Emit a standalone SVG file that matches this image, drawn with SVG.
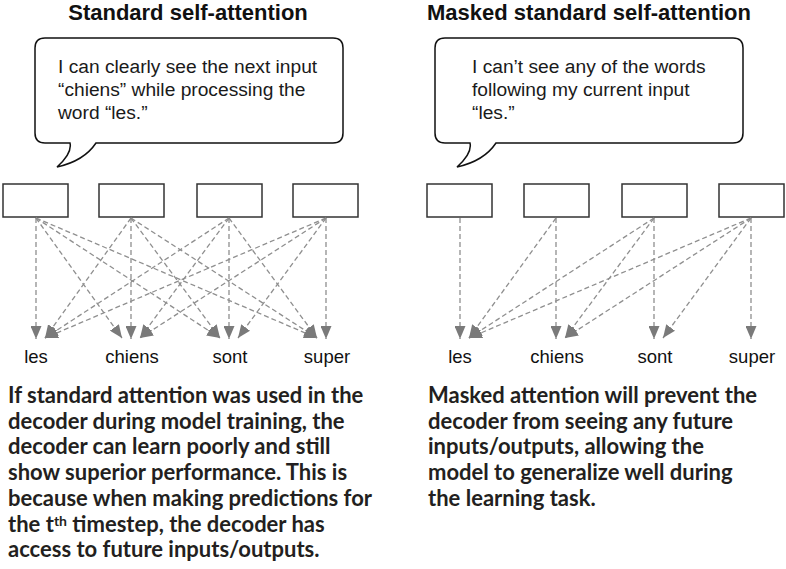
<svg xmlns="http://www.w3.org/2000/svg" width="786" height="569" viewBox="0 0 786 569">
<defs>
<style>
.title{font-family:"Liberation Sans",Arial,sans-serif;font-weight:bold;font-size:22px;fill:#111;text-anchor:middle}
.bub{fill:#fff;stroke:#111;stroke-width:1.5}
.btxt{font-family:"Liberation Sans",Arial,sans-serif;font-size:19.2px;fill:#1a1a1a}
.box{fill:#fff;stroke:#333;stroke-width:1.5}
.lbl{font-family:"Liberation Sans",Arial,sans-serif;font-size:18.5px;fill:#111;text-anchor:middle}
.cap{font-family:Lato,"Open Sans",sans-serif;font-weight:bold;font-size:22px;fill:#231f20}
.conn line{stroke:#8f8f8f;stroke-width:1.3;stroke-dasharray:5 3;marker-end:url(#ah)}
</style>
<marker id="ah" markerUnits="userSpaceOnUse" markerWidth="13" markerHeight="11" refX="13" refY="5.5" orient="auto">
<path d="M0,0 L13,5.5 L0,11 Z" fill="#7a7a7a"/>
</marker>
</defs>
<rect width="786" height="569" fill="#fff"/>

<text class="title" x="188" y="20">Standard self-attention</text>
<text class="title" x="589" y="20">Masked standard self-attention</text>

<g id="bubble-left">
<path class="bub" d="M45,38 H333 Q343,38 343,48 V133 Q343,143 333,143 H96 C88,155 75,163 57,167 C65,160 72,152 70,143 H45 Q35,143 35,133 V48 Q35,38 45,38 Z"/>
<text class="btxt" x="58" y="73">I can clearly see the next input</text>
<text class="btxt" x="58" y="96">“chiens” while processing the</text>
<text class="btxt" x="58" y="119">word “les.”</text>
</g>
<g id="bubble-right">
<path class="bub" d="M445,38 H733 Q743,38 743,48 V133 Q743,143 733,143 H496 C488,155 475,163 457,167 C465,160 472,152 470,143 H445 Q435,143 435,133 V48 Q435,38 445,38 Z"/>
<text class="btxt" x="472" y="73">I can’t see any of the words</text>
<text class="btxt" x="472" y="96">following my current input</text>
<text class="btxt" x="472" y="119">“les.”</text>
</g>

<g id="left-box-1"><rect class="box" x="3" y="184" width="65" height="33"/></g>
<g id="left-box-2"><rect class="box" x="99" y="184" width="65" height="33"/></g>
<g id="left-box-3"><rect class="box" x="197" y="184" width="65" height="33"/></g>
<g id="left-box-4"><rect class="box" x="293" y="184" width="65" height="33"/></g>
<g id="right-box-1"><rect class="box" x="427" y="184" width="65" height="33"/></g>
<g id="right-box-2"><rect class="box" x="524" y="184" width="65" height="33"/></g>
<g id="right-box-3"><rect class="box" x="622" y="184" width="65" height="33"/></g>
<g id="right-box-4"><rect class="box" x="719" y="184" width="65" height="33"/></g>

<g id="connectors" class="conn">
<line x1="36" y1="218" x2="36" y2="339"/>
<line x1="36" y1="218" x2="122" y2="338"/>
<line x1="36" y1="218" x2="220" y2="338"/>
<line x1="36" y1="218" x2="317" y2="338"/>
<line x1="131" y1="218" x2="45" y2="338"/>
<line x1="131" y1="218" x2="131" y2="339"/>
<line x1="131" y1="218" x2="220" y2="338"/>
<line x1="131" y1="218" x2="317" y2="338"/>
<line x1="229" y1="218" x2="45" y2="338"/>
<line x1="229" y1="218" x2="140" y2="338"/>
<line x1="229" y1="218" x2="229" y2="339"/>
<line x1="229" y1="218" x2="317" y2="338"/>
<line x1="326" y1="218" x2="45" y2="338"/>
<line x1="326" y1="218" x2="140" y2="338"/>
<line x1="326" y1="218" x2="238" y2="338"/>
<line x1="326" y1="218" x2="326" y2="339"/>

<line x1="460" y1="218" x2="460" y2="339"/>
<line x1="556" y1="218" x2="469" y2="338"/>
<line x1="556" y1="218" x2="556" y2="339"/>
<line x1="654" y1="218" x2="469" y2="338"/>
<line x1="654" y1="218" x2="565" y2="338"/>
<line x1="654" y1="218" x2="654" y2="339"/>
<line x1="751" y1="218" x2="469" y2="338"/>
<line x1="751" y1="218" x2="565" y2="338"/>
<line x1="751" y1="218" x2="663" y2="338"/>
<line x1="751" y1="218" x2="751" y2="339"/>
</g>

<g id="labels">
<text class="lbl" x="36" y="363">les</text>
<text class="lbl" x="132" y="363">chiens</text>
<text class="lbl" x="230" y="363">sont</text>
<text class="lbl" x="327" y="363">super</text>
<text class="lbl" x="460" y="363">les</text>
<text class="lbl" x="557" y="363">chiens</text>
<text class="lbl" x="655" y="363">sont</text>
<text class="lbl" x="752" y="363">super</text>
</g>

<g id="caption-left" class="cap">
<text x="8" y="403">If standard attention was used in the</text>
<text x="8" y="428.7">decoder during model training, the</text>
<text x="8" y="454.4">decoder can learn poorly and still</text>
<text x="8" y="480">show superior performance. This is</text>
<text x="8" y="505.8">because when making predictions for</text>
<text x="8" y="531.5">the t<tspan dy="-6" font-size="14">th</tspan><tspan dy="6"> timestep, the decoder has</tspan></text>
<text x="8" y="557.2">access to future inputs/outputs.</text>
</g>
<g id="caption-right" class="cap">
<text x="428" y="403">Masked attention will prevent the</text>
<text x="428" y="428.7">decoder from seeing any future</text>
<text x="428" y="454.4">inputs/outputs, allowing the</text>
<text x="428" y="480">model to generalize well during</text>
<text x="428" y="505.8">the learning task.</text>
</g>
</svg>
